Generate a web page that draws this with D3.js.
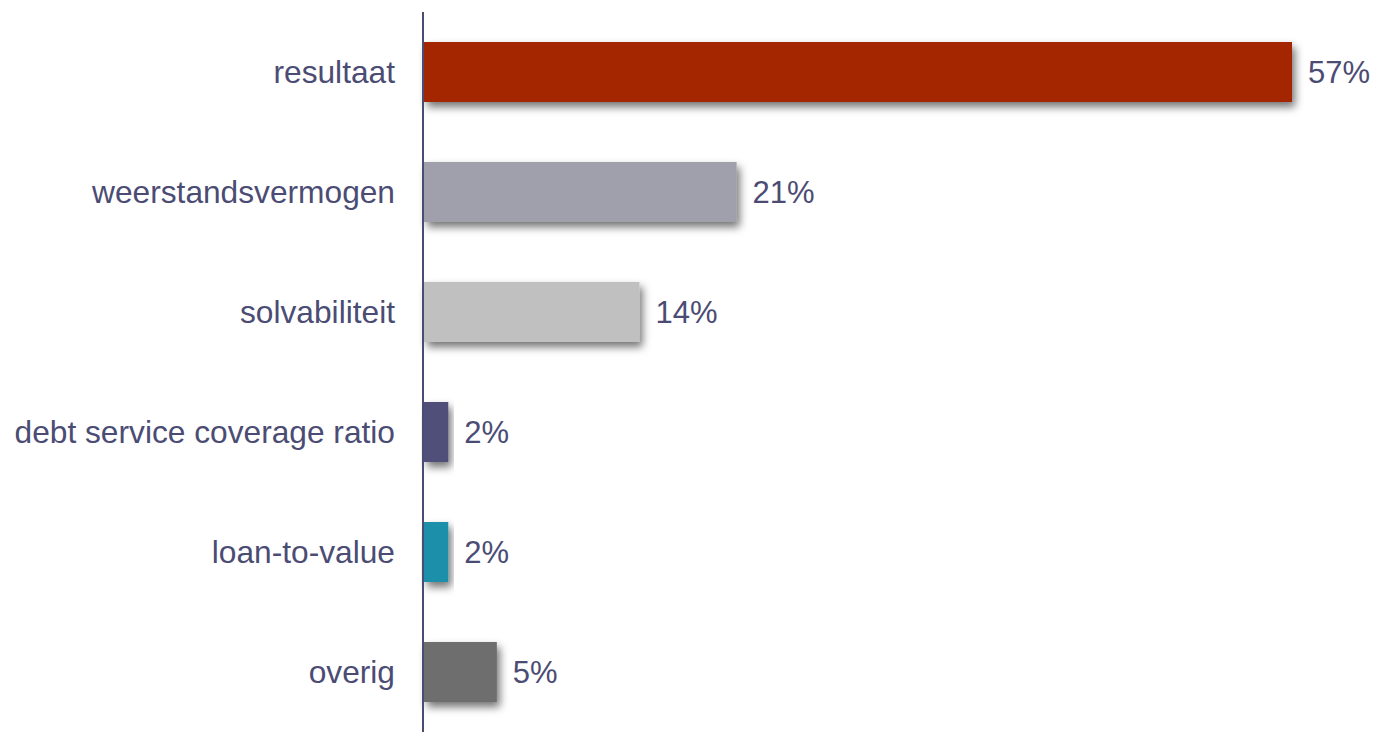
<!DOCTYPE html>
<meta charset="utf-8">
<script src="https://d3js.org/d3.v7.min.js"></script>
<style>
  body { margin: 0; background: #fff; }
  svg text { font-family: Arial, "Liberation Sans", Helvetica, sans-serif; fill: #4b4c74; }
</style>
<body>
<div id="my_dataviz"></div>
<script>
// data
var categories = ["resultaat", "weerstandsvermogen", "solvabiliteit", "debt service coverage ratio", "loan-to-value", "overig"];
var values = [57.2, 20.6, 14.2, 1.6, 1.6, 4.8];
var labels = ["57%", "21%", "14%", "2%", "2%", "5%"];
var colors = ["#a32800", "#a0a0ac", "#c0c0c0", "#4f5079", "#1e8fab", "#6e6e6e"];

var W = 1375, H = 732;
var margin = { top: 12, right: 83, bottom: 0, left: 424 };
var width = W - margin.left - margin.right,
    height = H - margin.top - margin.bottom;

var svg = d3.select("#my_dataviz")
  .append("svg")
  .attr("width", W)
  .attr("height", H);

// soft shadow under the bars
var defs = svg.append("defs");
var f = defs.append("filter").attr("id", "shadow")
  .attr("x", "-10%").attr("y", "-20%").attr("width", "130%").attr("height", "160%");
f.append("feDropShadow")
  .attr("dx", 3).attr("dy", 5)
  .attr("stdDeviation", 4)
  .attr("flood-color", "#000")
  .attr("flood-opacity", 0.55);

var g = svg.append("g")
  .attr("transform", "translate(" + margin.left + "," + margin.top + ")");

var data = categories.map(function (c, i) {
  return { cat: c, value: values[i], label: labels[i], color: colors[i] };
});

var x = d3.scaleLinear()
  .domain([0, d3.max(values)])
  .range([0, 868]);

var y = d3.scaleBand()
  .domain(categories)
  .range([0, height])
  .paddingInner(0.5)
  .paddingOuter(0.25);

// bars
g.selectAll("rect.bar")
  .data(data)
  .enter()
  .append("rect")
  .attr("class", "bar")
  .attr("x", 0)
  .attr("y", function (d) { return y(d.cat); })
  .attr("width", function (d) { return x(d.value); })
  .attr("height", y.bandwidth())
  .attr("fill", function (d) { return d.color; })
  .attr("filter", "url(#shadow)");

// vertical axis line
g.append("line")
  .attr("x1", -1).attr("x2", -1)
  .attr("y1", 0).attr("y2", height)
  .attr("stroke", "#4b4c74")
  .attr("stroke-width", 2);

// category labels
g.selectAll("text.cat")
  .data(data)
  .enter()
  .append("text")
  .attr("class", "cat")
  .attr("x", -29)
  .attr("y", function (d) { return y(d.cat) + y.bandwidth() / 2; })
  .attr("dy", "0.36em")
  .attr("text-anchor", "end")
  .style("font-size", "31.7px")
  .text(function (d) { return d.cat; });

// value labels
g.selectAll("text.val")
  .data(data)
  .enter()
  .append("text")
  .attr("class", "val")
  .attr("x", function (d) { return x(d.value) + 16; })
  .attr("y", function (d) { return y(d.cat) + y.bandwidth() / 2; })
  .attr("dy", "0.36em")
  .style("font-size", "31px")
  .text(function (d) { return d.label; });
</script>
</body>
